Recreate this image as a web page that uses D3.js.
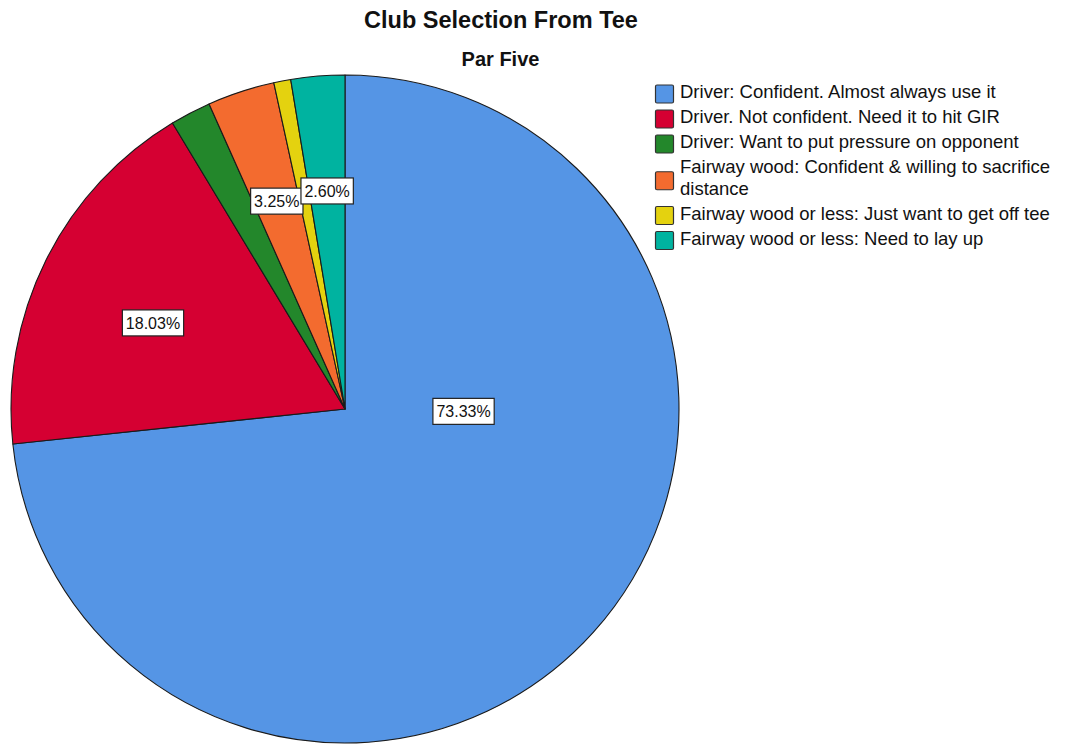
<!DOCTYPE html>
<html>
<head>
<meta charset="utf-8">
<script src="https://cdn.jsdelivr.net/npm/d3@7/dist/d3.min.js"></script>
<style>
  html, body { margin: 0; padding: 0; background: #fff; }
  svg { display: block; font-family: Arial, "Liberation Sans", sans-serif; }
</style>
</head>
<body>
<svg id="chart" width="1082" height="745"></svg>
<script>
// Categories and their share of respondents (percent), in drawing order
const categories = [
  "Driver: Confident. Almost always use it",
  "Driver. Not confident. Need it to hit GIR",
  "Driver: Want to put pressure on opponent",
  "Fairway wood: Confident & willing to sacrifice distance",
  "Fairway wood or less: Just want to get off tee",
  "Fairway wood or less: Need to lay up"
];
const percents = [73.33, 18.03, 1.97, 3.25, 0.82, 2.60];
// Slices whose value is printed on the pie
const labelled = [true, true, false, true, false, true];
// Legend lines (long entries wrap onto a second line)
const legendLines = [
  ["Driver: Confident. Almost always use it"],
  ["Driver. Not confident. Need it to hit GIR"],
  ["Driver: Want to put pressure on opponent"],
  ["Fairway wood: Confident & willing to sacrifice", "distance"],
  ["Fairway wood or less: Just want to get off tee"],
  ["Fairway wood or less: Need to lay up"]
];
const colors = ["#5595e5", "#d50032", "#23872b", "#f36b2f", "#e4d20f", "#00b3a0"];

const svg = d3.select("#chart");
const cx = 345, cy = 409, R = 334;

const color = d3.scaleOrdinal().domain(categories).range(colors);
const data = categories.map((c, i) => ({ name: c, value: percents[i], show: labelled[i] }));

const pie = d3.pie().sort(null).value(d => d.value).startAngle(0).endAngle(2 * Math.PI);
const arcs = pie(data);
const arc = d3.arc().innerRadius(0).outerRadius(R);

const g = svg.append("g").attr("transform", `translate(${cx},${cy})`);

g.selectAll("path.slice")
  .data(arcs)
  .join("path")
  .attr("class", "slice")
  .attr("d", arc)
  .attr("fill", d => color(d.data.name))
  .attr("stroke", "#1a1a1a")
  .attr("stroke-width", 1.1)
  .attr("stroke-linejoin", "round");

// Value labels: small slices along their mid-angle, the dominant slice toward 3 o'clock
const labelArc = d3.arc().innerRadius(R * 0.655).outerRadius(R * 0.655);
function labelPos(d) {
  const share = (d.endAngle - d.startAngle) / (2 * Math.PI);
  if (share > 0.5) {
    const a = Math.PI / 2 + 0.02, r = R * 0.355;
    return [r * Math.sin(a), -r * Math.cos(a)];
  }
  if (share > 0.1) {
    // wide slice: pull the label slightly toward the slice's leading edge
    const a = (d.startAngle + d.endAngle) / 2 - 0.04, r = R * 0.63;
    return [r * Math.sin(a), -r * Math.cos(a)];
  }
  return labelArc.centroid(d);
}

const labels = g.selectAll("g.lbl")
  .data(arcs.filter(d => d.data.show))
  .join("g")
  .attr("class", "lbl")
  .attr("transform", d => { const p = labelPos(d); return `translate(${p[0]},${p[1]})`; });

labels.each(function (d) {
  const sel = d3.select(this);
  const t = sel.append("text")
    .attr("text-anchor", "middle")
    .attr("dy", "0.36em")
    .attr("font-size", 16)
    .attr("fill", "#111")
    .text(d.data.value.toFixed(2) + "%");
  const bb = t.node().getBBox();
  sel.insert("rect", "text")
    .attr("x", bb.x - 3.5)
    .attr("y", -13)
    .attr("width", bb.width + 7)
    .attr("height", 26)
    .attr("fill", "#fff")
    .attr("stroke", "#222")
    .attr("stroke-width", 1.2);
});

// Titles
svg.append("text")
  .attr("x", 501).attr("y", 28)
  .attr("text-anchor", "middle")
  .attr("font-size", 23.5).attr("font-weight", "bold").attr("fill", "#111")
  .text("Club Selection From Tee");
svg.append("text")
  .attr("x", 500.5).attr("y", 66)
  .attr("text-anchor", "middle")
  .attr("font-size", 20).attr("font-weight", "bold").attr("fill", "#111")
  .text("Par Five");

// Legend
const legend = svg.append("g").attr("transform", "translate(655,82)");
let y = 0;
legendLines.forEach((lines, i) => {
  const h = lines.length === 1 ? 25 : 46.5;
  const item = legend.append("g").attr("transform", `translate(0,${y})`);
  item.append("rect")
    .attr("x", 0.5).attr("y", h / 2 - 9.5 + (lines.length > 1 ? 1 : 0))
    .attr("width", 18).attr("height", 18)
    .attr("rx", 1.5)
    .attr("fill", colors[i])
    .attr("stroke", "#333")
    .attr("stroke-width", 1.2);
  lines.forEach((ln, k) => {
    item.append("text")
      .attr("x", 25)
      .attr("y", 16 + k * 21.7)
      .attr("font-size", 18.5)
      .attr("fill", "#111")
      .text(ln);
  });
  y += h;
});
</script>
</body>
</html>
